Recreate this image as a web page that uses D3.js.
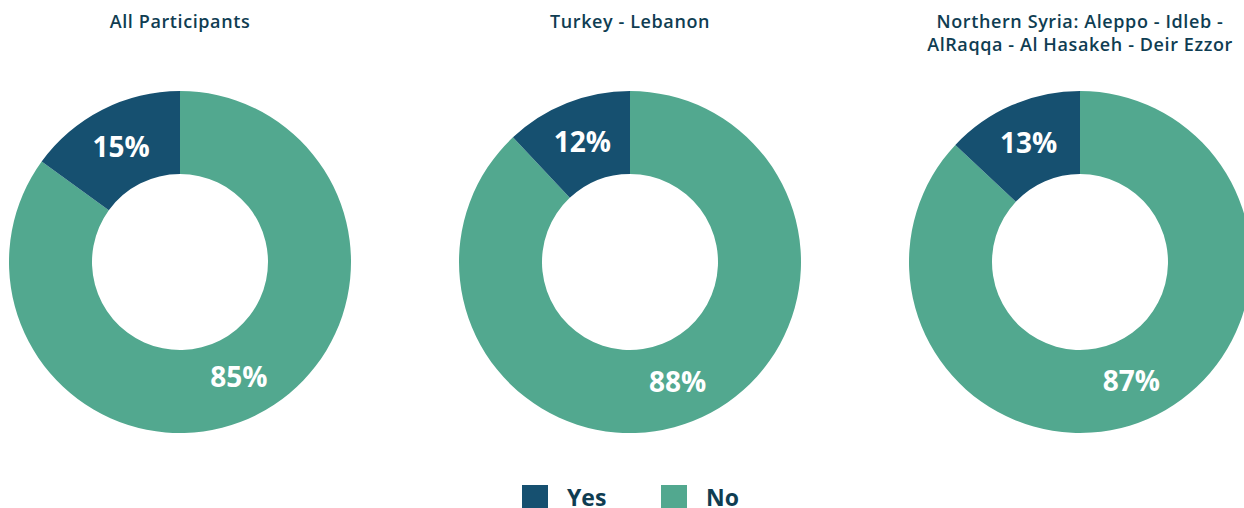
<!DOCTYPE html>
<html>
<head>
<meta charset="utf-8">
<script src="https://cdn.jsdelivr.net/npm/d3@7"></script>
<style>
  html, body { margin: 0; padding: 0; background: #ffffff; }
  svg { display: block; }
  text { font-family: "Open Sans", "Noto Sans", sans-serif; }
</style>
</head>
<body>
<svg id="chart" width="1244" height="508"></svg>
<script>
// Survey answers per region (percent)
const categories = ["Yes", "No"];
const regions = [
  ["All Participants"],
  ["Turkey - Lebanon"],
  ["Northern Syria: Aleppo - Idleb -", "AlRaqqa - Al Hasakeh - Deir Ezzor"]
];
const yesValues = [15, 12, 13];
const noValues = [85, 88, 87];
const colors = ["#165070", "#52a88f"];

const svg = d3.select("#chart");

const color = d3.scaleOrdinal().domain(categories).range(colors);
const centerX = d3.scalePoint().domain(d3.range(regions.length)).range([180, 1080]);

const outerR = 171, innerR = 88, cy = 262;

// "No" is laid out first so "Yes" ends at twelve o'clock
const pie = d3.pie().sort(null).value(d => d.value);
const arc = d3.arc().innerRadius(innerR).outerRadius(outerR);

regions.forEach((title, i) => {
  const g = svg.append("g").attr("transform", `translate(${centerX(i)},${cy})`);
  const data = [
    { key: "No", value: noValues[i] },
    { key: "Yes", value: yesValues[i] }
  ];
  const arcs = pie(data);

  g.selectAll("path.slice")
    .data(arcs)
    .join("path")
    .attr("class", "slice")
    .attr("d", arc)
    .attr("fill", d => color(d.data.key));

  g.selectAll("text.val")
    .data(arcs)
    .join("text")
    .attr("class", "val")
    .attr("transform", d => `translate(${arc.centroid(d)})`)
    .attr("text-anchor", "middle")
    .attr("dy", "0.36em")
    .attr("fill", "#ffffff")
    .attr("font-size", 28)
    .attr("font-weight", 700)
    .text(d => d.data.value + "%");

  const t = svg.append("text")
    .attr("x", centerX(i))
    .attr("text-anchor", "middle")
    .attr("fill", "#0f3d52")
    .attr("font-size", 18)
    .attr("font-weight", 600)
    .attr("letter-spacing", 0.6);
  title.forEach((line, j) => {
    t.append("tspan")
      .attr("x", centerX(i))
      .attr("y", 28 + j * 23)
      .text(line);
  });
});

// Legend
const legend = svg.append("g");
const legendX = [522, 661];
categories.forEach((c, i) => {
  legend.append("rect")
    .attr("x", legendX[i])
    .attr("y", 485)
    .attr("width", 26)
    .attr("height", 26)
    .attr("fill", color(c));
  legend.append("text")
    .attr("x", legendX[i] + 45)
    .attr("y", 506)
    .attr("fill", "#0f3d52")
    .attr("font-size", 23)
    .attr("font-weight", 700)
    .text(c);
});
</script>
</body>
</html>
